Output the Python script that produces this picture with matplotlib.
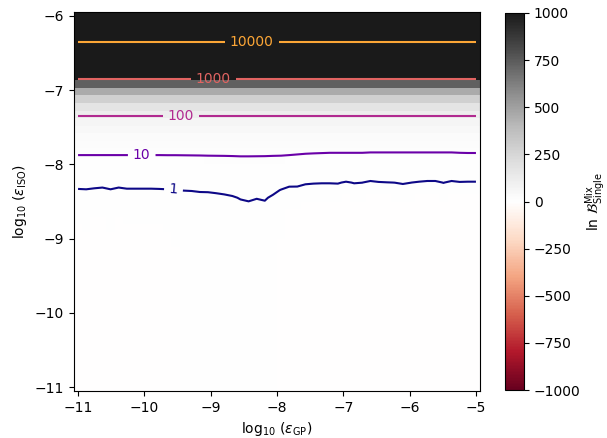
import numpy as np
import matplotlib
matplotlib.use("Agg")
import matplotlib.pyplot as plt

# ---- data ----
x_min, x_max, n_x = -11.0, -5.0, 50
y_min, y_max, n_y = -11.0, -6.0, 50

# ln B per row in log10(eps_ISO) (bottom -> top)
lnB_row = [0.0] * 15 + [
    0.006, 0.009, 0.015, 0.024, 0.038, 0.061, 0.097, 0.155, 0.248, 0.396,
    0.634, 1.014, 1.62, 2.59, 4.15, 6.64, 10.6, 17.0, 27.2, 43.5,
    69.7, 111, 178, 285, 456, 730, 1167, 1867, 2989, 4783,
    7656, 12250, 19600, 31340, 50120]

# column-wise scatter in the low (< 5) and mid (5 - 50) part of the grid
jitter_lo = [
    -0.11, -0.08, -0.16, -0.22, -0.08, -0.22, -0.13, -0.13, -0.13, -0.13,
    -0.11, -0.08, -0.03, 0.01, 0.03, 0.08, 0.09, 0.14, 0.20, 0.28,
    0.42, 0.48, 0.40, 0.46, 0.22, -0.06, -0.29, -0.30, -0.48, -0.535,
    -0.56, -0.56, -0.535, -0.73, -0.56, -0.61, -0.82, -0.70, -0.65, -0.61,
    -0.505, -0.61, -0.73, -0.82, -0.82, -0.59, -0.82, -0.70, -0.73, -0.73]
jitter_mid = [
    0.9, 0.9, 0.9, 0.9, 0.9, 0.9, 0.9, 0.9, 0.9, 0.9,
    0.9, 0.95, 0.95, 1.0, 1.05, 1.1, 1.2, 1.25, 1.3, 1.4,
    1.55, 1.55, 1.5, 1.45, 1.3, 1.2, 0.9, 0.55, 0.2, 0.0,
    -0.15, -0.3, -0.3, -0.3, -0.3, -0.3, -0.5, -0.5, -0.5, -0.5,
    -0.5, -0.5, -0.5, -0.5, -0.5, -0.5, -0.5, -0.3, -0.2, -0.2]

contour_levels = [1, 10, 100, 1000, 10000]
label_positions = [(-9.56, -8.33), (-10.04, -7.88), (-9.45, -7.35),
                   (-8.96, -6.85), (-8.38, -6.35)]
cbar_ticks = [-1000, -750, -500, -250, 0, 250, 500, 750, 1000]

# ---- build grid ----
x = np.linspace(x_min, x_max, n_x)
y = np.linspace(y_min, y_max, n_y)
base = np.array(lnB_row, dtype=float)[:, None]
jl = np.array(jitter_lo)[None, :]
jm = np.array(jitter_mid)[None, :]
Z = np.where(base < 5, base + jl, np.where(base < 50, base + jm, base))
Z = Z * np.ones((1, n_x))

fig = plt.figure(figsize=(6.07, 4.38), dpi=100)
ax = fig.add_axes([74 / 607, (438 - 391) / 438, 406 / 607, 379 / 438])
cax = fig.add_axes([505 / 607, (438 - 390) / 438, 19 / 607, 377 / 438])

mesh = ax.pcolormesh(x, y, Z, cmap="RdGy", vmin=-1000, vmax=1000,
                     shading="nearest")
colors = plt.cm.plasma(np.linspace(0, 0.8, len(contour_levels)))
cs = ax.contour(x, y, Z, levels=contour_levels, colors=colors,
                linewidths=1.5)
ax.clabel(cs, fmt="%d", inline=True, fontsize=10, manual=label_positions)

ax.set_xticks([-11, -10, -9, -8, -7, -6, -5])
ax.set_yticks([-11, -10, -9, -8, -7, -6])
ax.set_xlabel(r"$\log_{10}\,(\varepsilon_{\rm GP})$")
ax.set_ylabel(r"$\log_{10}\,(\varepsilon_{\rm ISO})$")

cb = fig.colorbar(mesh, cax=cax, ticks=cbar_ticks)
cb.set_label(r"$\ln\,\mathcal{B}^{\rm Mix}_{\rm Single}$", labelpad=2)

fig.savefig("out.png", dpi=100)
